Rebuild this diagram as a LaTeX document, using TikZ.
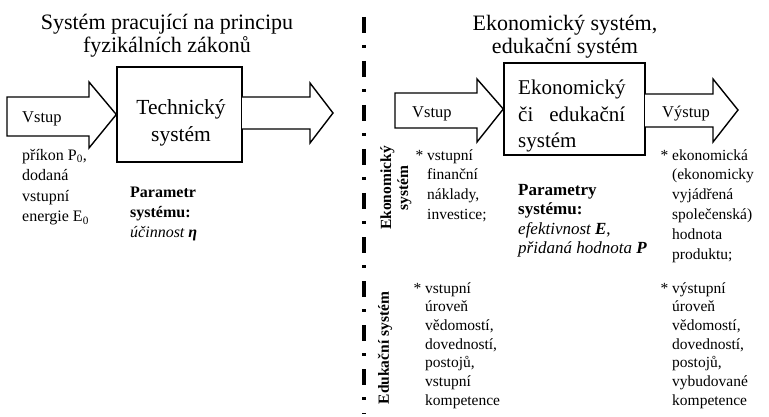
\documentclass[tikz,border=0pt]{standalone}
\usepackage{fontspec}
\setmainfont{Liberation Serif}
\usetikzlibrary{positioning}

\tikzset{
  titletext/.style={font=\fontsize{22}{23.5}\selectfont, align=center, inner sep=0pt, anchor=base},
  boxtext/.style={font=\fontsize{21.5}{26.5}\selectfont, inner sep=0pt},
  body/.style={font=\fontsize{15.5}{19.8}\selectfont, align=left, inner sep=0pt, anchor=base west},
  arrowtext/.style={font=\fontsize{16.5}{18}\selectfont, inner sep=0pt, anchor=base west},
  sidelabel/.style={font=\fontsize{15.5}{17}\selectfont\bfseries, align=center, inner sep=0pt, rotate=90},
  sysbox/.style={draw, line width=1.4pt, inner sep=0pt},
  blockarrow/.style={draw, line width=1.4pt, fill=white, line join=miter},
}

\begin{document}
\begin{tikzpicture}[x=1pt,y=-1pt]
\fill[white] (0,0) rectangle (769,417);
\useasboundingbox (0,0) rectangle (769,417);

\node[titletext] (titleleft) at (167,53) {Systém pracující na principu\\fyzikálních zákonů};
\node[titletext] (titleright) at (565,54) {Ekonomický systém,\\edukační systém};

\node[sysbox, minimum width=125pt, minimum height=95pt] (tech) at (179.5,114.5) {};
\node[boxtext, align=center, anchor=base] (techtext) at (181,141.5) {Technický\\systém};
\draw[blockarrow] (7,97) -- (89,97) -- (89,82) -- (tech.west) -- (89,148) -- (89,136) -- (7,136) -- cycle;
\draw[blockarrow] (242,97) -- (310,97) -- (310,83) -- (333,113) -- (310,143) -- (310,129) -- (242,129);
\node[arrowtext] (vstupleft) at (22,123) {Vstup};

\node[body, font=\fontsize{16}{20.5}\selectfont] (prikon) at (22,221.5) {příkon P\textsubscript{0},\\dodaná\\vstupní\\energie E\textsubscript{0}};
\node[body, font=\fontsize{16}{19.8}\selectfont] (partech) at (130,237.6) {\textbf{Parametr}\\\textbf{systému:}\\\textit{účinnost \textbf{η}}};

\draw[line width=4pt, dash pattern=on 16pt off 12pt on 3pt off 13pt] (364,17) -- (364,414);

\node[sysbox, minimum width=141pt, minimum height=92pt] (eko) at (574.5,109) {};
\node[boxtext, font=\fontsize{21}{26.5}\selectfont, align=left, anchor=base west] (ekotext) at (518,148) {Ekonomický\\\hbox to 107pt{či\hfill edukační}\\systém};
\draw[blockarrow] (395,93) -- (477,93) -- (477,79) -- (eko.west) -- (477,142) -- (477,128) -- (395,128) -- cycle;
\draw[blockarrow] (645,94) -- (713,94) -- (713,79) -- (738,110) -- (713,142) -- (713,127) -- (645,127);
\node[arrowtext] (vstupright) at (412,118) {Vstup};
\node[arrowtext] (vystup) at (662,118) {Výstup};

\node[sidelabel] (labeko) at (396,188) {Ekonomický\\systém};
\node[sidelabel] (labedu) at (385,348) {Edukační systém};

\node[body] (vstupeko) at (427,219.4) {\llap{*\ }vstupní\\finanční\\náklady,\\investice;};
\node[body, font=\fontsize{17}{19.5}\selectfont] (pareko) at (518,253.5) {\textbf{Parametry}\\\textbf{systému:}\\\textit{efektivnost \textbf{E}},\\\textit{přidaná hodnota \textbf{P}}};
\node[body] (vystupeko) at (672,259) {\llap{*\ }ekonomická\\(ekonomicky\\vyjádřená\\společenská)\\hodnota\\produktu;};

\node[body, font=\fontsize{15.5}{18.7}\selectfont] (vstupedu) at (425,405.2) {\llap{*\ }vstupní\\úroveň\\vědomostí,\\dovedností,\\postojů,\\vstupní\\kompetence};
\node[body, font=\fontsize{15.5}{18.7}\selectfont] (vystupedu) at (672,405.2) {\llap{*\ }výstupní\\úroveň\\vědomostí,\\dovedností,\\postojů,\\vybudované\\kompetence};
\end{tikzpicture}
\end{document}
